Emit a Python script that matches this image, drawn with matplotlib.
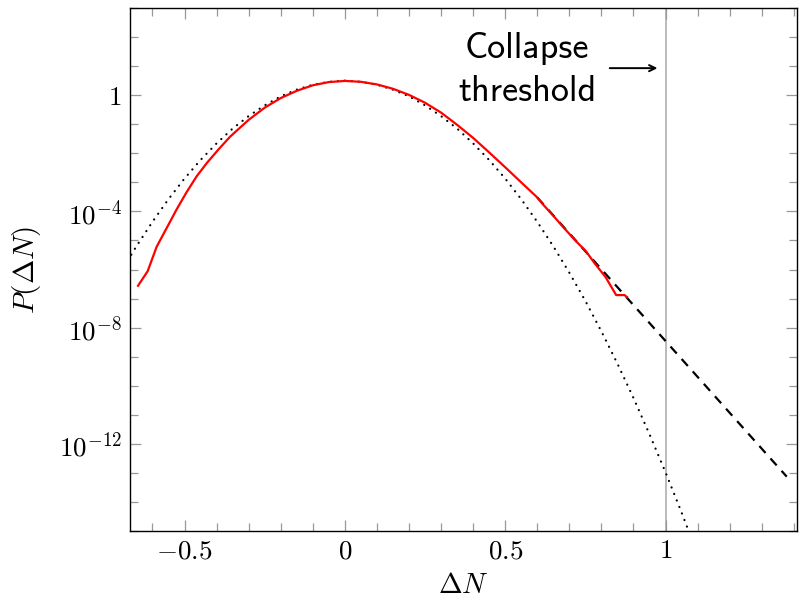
import numpy as np
import matplotlib
matplotlib.use("Agg")
import matplotlib.pyplot as plt
from matplotlib.ticker import FixedLocator, FuncFormatter

# ---------------- data ----------------
# red curve: simulated distribution, log10 P
red_x = [-0.645, -0.615, -0.587, -0.555, -0.524, -0.493, -0.462, -0.43, -0.395, -0.358,
         -0.30, -0.25, -0.20, -0.15, -0.10, -0.05, 0.0, 0.05, 0.10, 0.15, 0.20,
         0.25, 0.30, 0.35, 0.40, 0.45, 0.50, 0.545, 0.60, 0.617, 0.65, 0.68,
         0.722, 0.751, 0.78, 0.813, 0.846, 0.872, 0.88]
red_log10p = [-6.56, -6.06, -5.22, -4.56, -3.92, -3.33, -2.79, -2.33, -1.88, -1.43,
              -0.85, -0.43, -0.10, 0.15, 0.34, 0.45, 0.49, 0.46, 0.37, 0.22, 0.01,
              -0.26, -0.60, -1.02, -1.47, -1.97, -2.48, -2.95, -3.52, -3.75, -4.15, -4.53,
              -5.04, -5.36, -5.80, -6.26, -6.88, -6.88, -6.95]

# dotted curve: Gaussian approximation, log10 P
gauss_x = [-0.70, -0.65, -0.60, -0.55, -0.50, -0.45, -0.40, -0.35, -0.30, -0.25,
           -0.20, -0.15, -0.10, -0.05, 0.0, 0.05, 0.10, 0.15, 0.20, 0.25, 0.30,
           0.35, 0.40, 0.45, 0.50, 0.55, 0.60, 0.65, 0.70, 0.75, 0.80, 0.85,
           0.90, 0.95, 1.00, 1.05, 1.10]
gauss_log10p = [-6.11, -5.20, -4.36, -3.58, -2.87, -2.23, -1.66, -1.15, -0.72, -0.35,
                -0.04, 0.19, 0.36, 0.46, 0.50, 0.46, 0.36, 0.19, -0.04, -0.35, -0.72,
                -1.15, -1.66, -2.23, -2.87, -3.58, -4.36, -5.20, -6.11, -7.08, -8.13, -9.24,
                -10.42, -11.67, -12.98, -14.36, -15.81]

# dashed curve: exponential tail, log10 P
tail_x = [0.60, 1.00, 1.378]
tail_log10p = [-3.52, -8.46, -13.13]

threshold_x = 1.0
yticks_major = [1e-12, 1e-8, 1e-4, 1.0]
ytick_labels = [r"$10^{-12}$", r"$10^{-8}$", r"$10^{-4}$", r"$1$"]
xticks_major = [-0.5, 0.0, 0.5, 1.0]
xtick_labels = [r"$-0.5$", r"$0$", r"$0.5$", r"$1$"]

# ---------------- plot ----------------
plt.rcParams['mathtext.fontset'] = 'cm'
plt.rcParams['font.family'] = ['cmr10', 'DejaVu Sans']
plt.rcParams['axes.unicode_minus'] = True

fig = plt.figure(figsize=(8.04, 6.0), dpi=100)
ax = fig.add_axes([130/804, 1 - 531/600, (797 - 130)/804, (531 - 8)/600])

ax.axvline(threshold_x, color='#a8a8a8', lw=1.1, zorder=1)

ax.plot(gauss_x, 10**np.array(gauss_log10p), color='black', lw=1.6,
        linestyle=(0, (0.05, 3.1)), dash_capstyle='round', zorder=2)
ax.plot(tail_x, 10**np.array(tail_log10p), color='black', lw=1.6,
        linestyle=(0, (4.2, 3.3)), zorder=3)
ax.plot(red_x, 10**np.array(red_log10p), color='#ff0000', lw=1.6, zorder=4)

ax.set_yscale('log')
ax.set_xlim(-0.67, 1.41)
ax.set_ylim(1e-15, 1e3)

ax.xaxis.set_major_locator(FixedLocator(xticks_major))
ax.set_xticklabels(xtick_labels)
ax.xaxis.set_minor_locator(FixedLocator([v / 10 for v in range(-6, 15) if v % 5 != 0]))

ax.yaxis.set_major_locator(FixedLocator(yticks_major))
ax.set_yticklabels(ytick_labels)
ax.yaxis.set_minor_locator(FixedLocator([10.0**k for k in range(-15, 4) if k % 4 != 0]))
ax.yaxis.set_minor_formatter(FuncFormatter(lambda v, p: ""))

ax.tick_params(which='both', direction='in', top=True, right=True,
               color='#999999', labelsize=19.5, labelcolor='black')
ax.tick_params(which='major', length=8, width=0.9, pad=6)
ax.tick_params(which='minor', length=5.5, width=0.9)
for s in ax.spines.values():
    s.set_linewidth(1.0)
    s.set_color('black')

ax.set_xlabel(r"$\Delta N$", fontsize=20.5, labelpad=7)
ax.set_ylabel(r"$P(\Delta N)$", fontsize=21, labelpad=11)

ax.text(0.569, 10**0.86, "Collapse\nthreshold", family='cmss10', fontsize=26,
        ha='center', va='center', linespacing=1.4, zorder=5)
ax.annotate("", xy=(0.975, 10**0.93), xytext=(0.826, 10**0.93),
            arrowprops=dict(arrowstyle='->,head_length=0.45,head_width=0.22',
                            color='black', lw=1.4, shrinkA=0, shrinkB=0))

fig.savefig("out.png", dpi=100)
